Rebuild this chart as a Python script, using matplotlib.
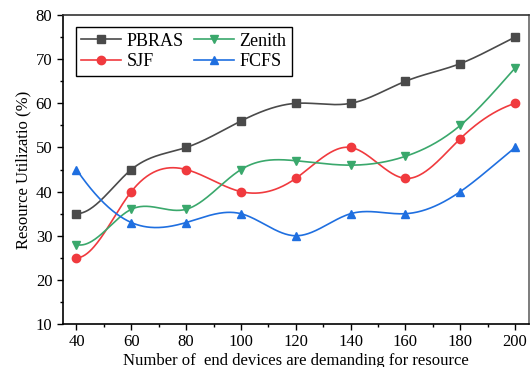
import numpy as np
import matplotlib.pyplot as plt
from matplotlib.ticker import MultipleLocator

# data
devices = [40, 60, 80, 100, 120, 140, 160, 180, 200]
pbras = [35, 45, 50, 56, 60, 60, 65, 69, 75]
sjf = [25, 40, 45, 40, 43, 50, 43, 52, 60]
zenith = [28, 36, 36, 45, 47, 46, 48, 55, 68]
fcfs = [45, 33, 33, 35, 30, 35, 35, 40, 50]

# end tangents of the smoothed lines (look of the original spline)
END_SLOPES = {
    "PBRAS": (0.0, 0.3),
    "SJF": (0.0, 0.2),
    "Zenith": (-0.15, 0.7),
    "FCFS": (-0.9, 0.5),
}

plt.rcParams["font.family"] = ["Liberation Serif", "DejaVu Serif"]


def smooth(x, y, d0, dn, n=400):
    # clamped cubic spline through the points, only used for drawing the line
    x = np.asarray(x, float)
    y = np.asarray(y, float)
    k = len(x)
    h = np.diff(x)
    A = np.zeros((k, k))
    b = np.zeros(k)
    A[0, 0], A[0, 1] = 2 * h[0], h[0]
    b[0] = 6 * ((y[1] - y[0]) / h[0] - d0)
    A[-1, -2], A[-1, -1] = h[-1], 2 * h[-1]
    b[-1] = 6 * (dn - (y[-1] - y[-2]) / h[-1])
    for i in range(1, k - 1):
        A[i, i - 1] = h[i - 1]
        A[i, i] = 2 * (h[i - 1] + h[i])
        A[i, i + 1] = h[i]
        b[i] = 6 * ((y[i + 1] - y[i]) / h[i] - (y[i] - y[i - 1]) / h[i - 1])
    m = np.linalg.solve(A, b)
    xs = np.linspace(x[0], x[-1], n)
    idx = np.clip(np.searchsorted(x, xs) - 1, 0, k - 2)
    x0, x1 = x[idx], x[idx + 1]
    hh = x1 - x0
    t0, t1 = x1 - xs, xs - x0
    ys = (m[idx] * t0 ** 3 + m[idx + 1] * t1 ** 3) / (6 * hh) \
        + (y[idx] / hh - m[idx] * hh / 6) * t0 \
        + (y[idx + 1] / hh - m[idx + 1] * hh / 6) * t1
    return xs, ys


fig = plt.figure(figsize=(5.32, 3.67), dpi=100)
ax = fig.add_axes([0.118, 0.117, 0.876, 0.842])

series = [
    ("PBRAS", pbras, "#4a4a4a", "s"),
    ("SJF", sjf, "#f03a3e", "o"),
    ("Zenith", zenith, "#3aa86c", "v"),
    ("FCFS", fcfs, "#1f6fe0", "^"),
]
handles = {}
for name, vals, col, mk in series:
    d0, dn = END_SLOPES[name]
    xs, ys = smooth(devices, vals, d0, dn)
    ax.plot(xs, ys, color=col, lw=1.2)
    ax.plot(devices, vals, ls="none", marker=mk, color=col, ms=6)
    handles[name] = ax.plot([], [], color=col, lw=1.2, marker=mk, ms=6)[0]

order = ["PBRAS", "SJF", "Zenith", "FCFS"]
leg = ax.legend([handles[n] for n in order], order, ncol=2, loc="upper left",
                bbox_to_anchor=(0.02, 0.972), fontsize=13, fancybox=False,
                edgecolor="black", framealpha=1, handlelength=2.2,
                borderpad=0.3, labelspacing=0.2, columnspacing=0.6,
                handletextpad=0.3, borderaxespad=0.2)
leg.get_frame().set_linewidth(1.0)

ax.set_xlim(35, 205)
ax.set_ylim(10, 80)
ax.set_xticks(devices)
ax.set_yticks(range(10, 81, 10))
ax.xaxis.set_minor_locator(MultipleLocator(10))
ax.yaxis.set_minor_locator(MultipleLocator(5))
ax.tick_params(which="major", direction="out", length=4, width=1,
               labelsize=12, top=False, right=False)
ax.tick_params(which="minor", direction="out", length=2.5, width=1,
               top=False, right=False)
for s in ax.spines.values():
    s.set_linewidth(1.2)
ax.spines["top"].set_color("#333333")
ax.spines["right"].set_color("#666666")

ax.set_xlabel("Number of  end devices are demanding for resource", fontsize=12,
              labelpad=2)
ax.set_ylabel("Resource Utilizatio (%)", fontsize=12, labelpad=3)

fig.savefig("out.png", dpi=100)
